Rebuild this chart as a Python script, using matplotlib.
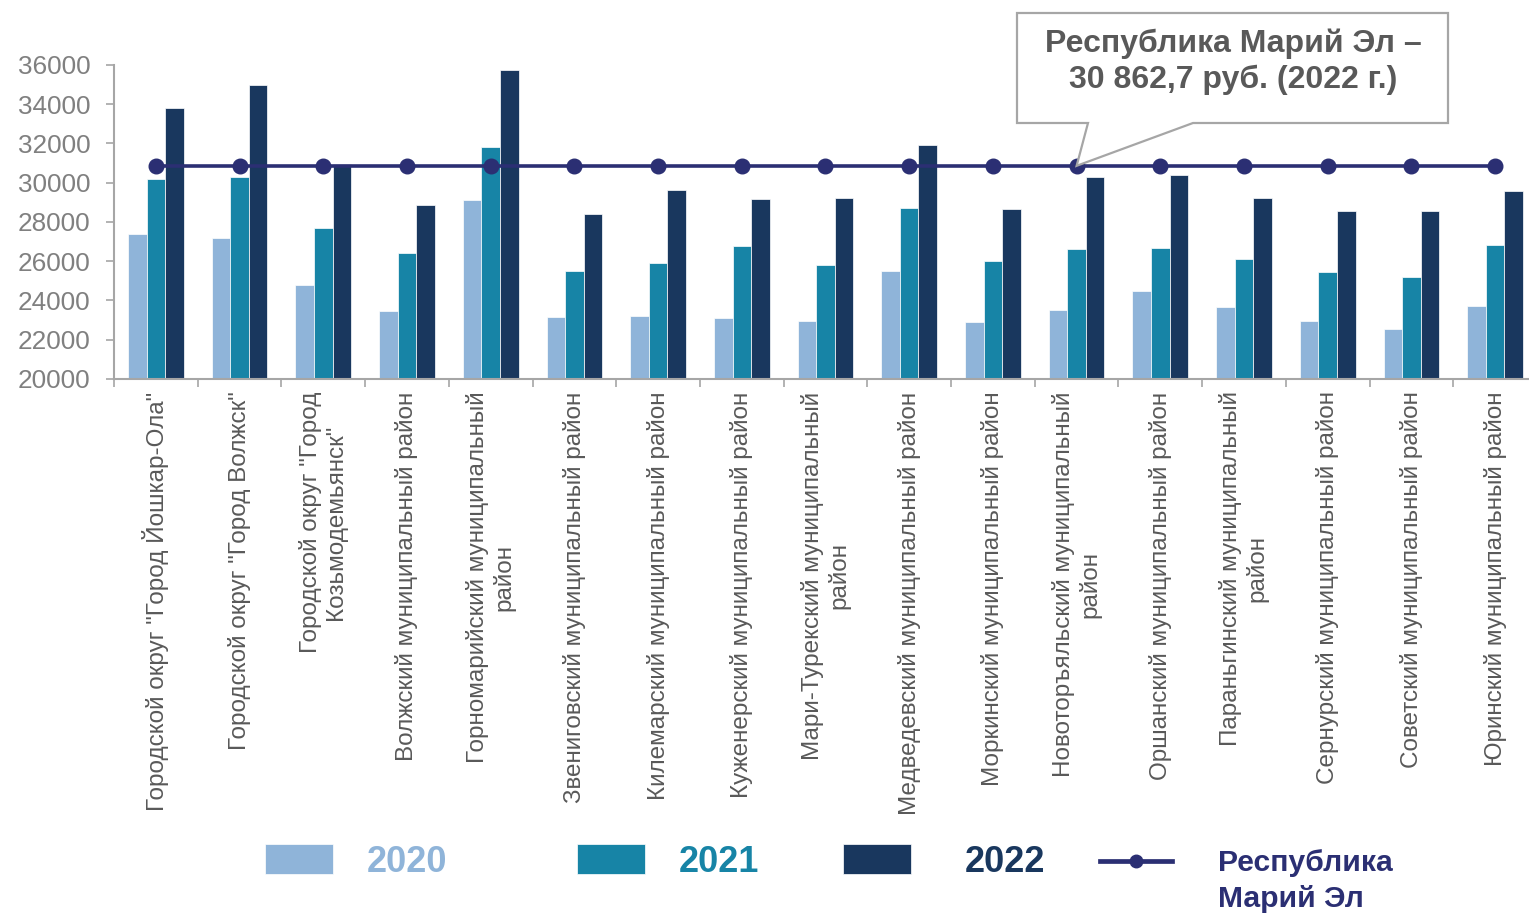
import numpy as np
import matplotlib
matplotlib.use("Agg")
import matplotlib.pyplot as plt
from matplotlib.patches import Polygon
from matplotlib.ticker import FixedLocator

plt.rcParams['font.family'] = ['Liberation Sans', 'DejaVu Sans']

categories = [
    'Городской округ "Город Йошкар-Ола"',
    'Городской округ "Город Волжск"',
    'Городской округ "Город\nКозьмодемьянск"',
    'Волжский муниципальный район',
    'Горномарийский муниципальный\nрайон',
    'Звениговский муниципальный район',
    'Килемарский муниципальный район',
    'Куженерский муниципальный район',
    'Мари-Турекский муниципальный\nрайон',
    'Медведевский муниципальный район',
    'Моркинский муниципальный район',
    'Новоторъяльский муниципальный\nрайон',
    'Оршанский муниципальный район',
    'Параньгинский муниципальный\nрайон',
    'Сернурский муниципальный район',
    'Советский муниципальный район',
    'Юринский муниципальный район',
]
v2020 = [27400, 27200, 24800, 23450, 29100, 23150, 23200, 23100, 22950,
         25500, 22900, 23500, 24500, 23650, 22950, 22550, 23700]
v2021 = [30200, 30300, 27700, 26400, 31800, 25500, 25900, 26800, 25800,
         28700, 26000, 26600, 26650, 26100, 25450, 25200, 26850]
v2022 = [33800, 35000, 30950, 28850, 35750, 28400, 29650, 29150, 29200,
         31900, 28650, 30300, 30400, 29200, 28550, 28550, 29600]
rme = [30862.7, 30862.7, 30862.7, 30862.7, 30862.7, 30862.7, 30862.7, 30862.7,
       30862.7, 30862.7, 30862.7, 30862.7, 30862.7, 30862.7, 30862.7, 30862.7,
       30862.7]
callout = 'Республика Марий Эл –\n30 862,7 руб. (2022 г.)'

C20, C21, C22, CLINE = '#8FB4D9', '#1784A6', '#19375E', '#2B2F73'
GREY = '#A6A6A6'

W, H = 1529, 916
fig = plt.figure(figsize=(W / 100, H / 100), dpi=100)
ax = fig.add_axes([114 / W, 1 - 379 / H, 1423 / W, 314 / H])

x = np.arange(len(categories))
bw = 0.222
b20 = ax.bar(x - bw, v2020, bw, color=C20, edgecolor='white', linewidth=0.5, label='2020')
b21 = ax.bar(x, v2021, bw, color=C21, edgecolor='white', linewidth=0.5, label='2021')
b22 = ax.bar(x + bw, v2022, bw, color=C22, edgecolor='white', linewidth=0.5, label='2022')
ln, = ax.plot(x, rme, color=CLINE, lw=2.6, marker='o', markersize=10.5, zorder=5,
              label='Республика\nМарий Эл')

ax.set_xlim(-0.5, len(categories) - 0.5)
ax.set_ylim(20000, 36000)
ax.set_yticks(np.arange(20000, 36001, 2000))
ax.tick_params(axis='y', colors=GREY, labelcolor='#808080', labelsize=18.8,
               length=6, width=1.2, pad=11)
ax.set_xticks(x)
ax.set_xticklabels(categories, rotation=90, fontsize=17.5, color='#595959',
                   multialignment='center')
ax.tick_params(axis='x', which='major', length=0, pad=9)
ax.xaxis.set_minor_locator(FixedLocator(np.arange(-0.5, len(categories), 1.0)))
ax.tick_params(axis='x', which='minor', length=6, width=1.2, colors=GREY)
for s in ['top', 'right']:
    ax.spines[s].set_visible(False)
for s in ['left', 'bottom']:
    ax.spines[s].set_color(GREY)
    ax.spines[s].set_linewidth(1.5)


def add_legend(handle, label, xpx, ypx, color, size, hlen, hheight, pad):
    leg = fig.legend([handle], [label], loc='center left',
                     bbox_to_anchor=(xpx / W, 1 - ypx / H), frameon=False,
                     borderpad=0, borderaxespad=0, handlelength=hlen,
                     handleheight=hheight, handletextpad=pad,
                     prop={'weight': 'bold', 'size': size})
    for t in leg.get_texts():
        t.set_color(color)
        t.set_linespacing(1.35)
    return leg


add_legend(b20, '2020', 265, 862, C20, 26, 1.88, 0.86, 0.95)
add_legend(b21, '2021', 577, 862, C21, 26, 1.88, 0.86, 0.95)
add_legend(b22, '2022', 843, 862, C22, 26, 1.88, 0.86, 1.5)
leg_line = add_legend(ln, 'Республика\nМарий Эл', 1100, 881, CLINE, 21.7, 2.4, 0.7, 1.53)
# lift the line handle to the first text row, as in the original
hl = leg_line.legend_handles[0]
hl.set_ydata(np.asarray(hl.get_ydata()) + 14.5)
hl.set_linewidth(3.4)
hl.set_markersize(9)

# callout box with pointer to the republic average marker
tip = fig.transFigure.inverted().transform(ax.transData.transform((11, rme[11])))
pts = [(1017, 13), (1448, 13), (1448, 123), (1193, 123)]
pts = [(px / W, 1 - py / H) for px, py in pts]
pts += [tuple(tip), (1088 / W, 1 - 123 / H), (1017 / W, 1 - 123 / H)]
fig.patches.append(Polygon(pts, closed=True, transform=fig.transFigure,
                           facecolor='white', edgecolor=GREY, lw=1.6, zorder=10))
fig.text(1233 / W, 1 - 62 / H, callout, ha='center', va='center', fontsize=23,
         fontweight='bold', color='#595959', linespacing=1.25, zorder=11)

fig.savefig('out.png', dpi=100)
